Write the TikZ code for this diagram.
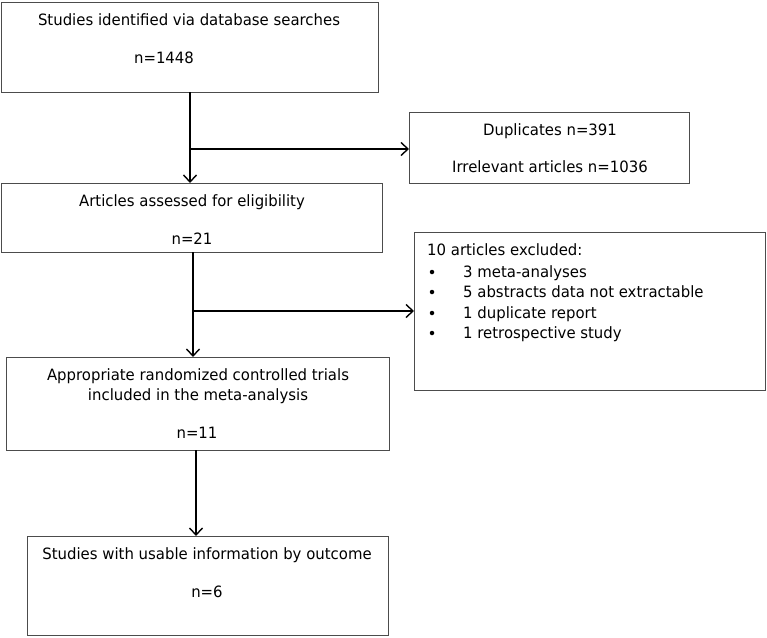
\documentclass[tikz,border=0pt]{standalone}
\usepackage{fontspec}
\setmainfont{DejaVu Sans}[FakeStretch=0.955]
\usetikzlibrary{arrows.meta}
\tikzset{
  box/.style={draw=black!70, line width=1pt, inner sep=0pt, outer sep=0pt, fill=none},
  txt/.style={inner sep=0pt, anchor=base, font=\fontsize{15.6}{18}\selectfont},
  ltxt/.style={txt, anchor=base west},
  dot/.style={circle, fill=black, inner sep=0pt, minimum size=4.5pt},
  arr/.style={line width=1.4pt, -{Straight Barb[length=7pt,width=13pt,line width=1.4pt]}},
  ln/.style={line width=1.4pt}
}
\begin{document}
\begin{tikzpicture}[x=1pt,y=-1pt]
\useasboundingbox[fill=white] (0,0) rectangle (767,637);
% boxes
\node[box, minimum width=377pt, minimum height=90pt] (b1) at (189.5,47) {};
\node[box, minimum width=280pt, minimum height=71pt] (b2) at (549,147.5) {};
\node[box, minimum width=381pt, minimum height=69pt] (b3) at (191.5,217.5) {};
\node[box, minimum width=351pt, minimum height=158pt] (b4) at (589.5,311) {};
\node[box, minimum width=383pt, minimum height=93pt] (b5) at (197.5,403.5) {};
\node[box, minimum width=361pt, minimum height=99pt] (b6) at (207.5,585.5) {};
% texts
\node[txt] (t1a) at (189,25) {Studies identified via database searches};
\node[txt] (t1b) at (164,63) {n=1448};
\node[txt] (t2a) at (550,135) {Duplicates n=391};
\node[txt] (t2b) at (550,172) {Irrelevant articles n=1036};
\node[txt] (t3a) at (192,206) {Articles assessed for eligibility};
\node[txt] (t3b) at (192,244) {n=21};
\node[ltxt] (t4a) at (427,255) {10 articles excluded:};
\node[dot] (d1) at (432,272) {};
\node[dot] (d2) at (432,292) {};
\node[dot] (d3) at (432,313) {};
\node[dot] (d4) at (432,333) {};
\node[ltxt] (t4b) at (463,277) {3 meta-analyses};
\node[ltxt] (t4c) at (463,297) {5 abstracts data not extractable};
\node[ltxt] (t4d) at (463,318) {1 duplicate report};
\node[ltxt] (t4e) at (463,338) {1 retrospective study};
\node[txt] (t5a) at (198,380) {Appropriate randomized controlled trials};
\node[txt] (t5b) at (198,400) {included in the meta-analysis};
\node[txt] (t5c) at (197,438) {n=11};
\node[txt] (t6a) at (207,559) {Studies with usable information by outcome};
\node[txt] (t6b) at (207,597) {n=6};
% connectors
\coordinate (s1) at (190,92);
\coordinate (j1) at (190,149);
\draw[arr] (s1) -- (s1 |- b3.north);
\draw[arr] (j1) -- (j1 -| b2.west);
\coordinate (s2) at (193,252);
\coordinate (j2) at (193,311);
\draw[arr] (s2) -- (s2 |- b5.north);
\draw[arr] (j2) -- (j2 -| b4.west);
\coordinate (s3) at (196,450);
\draw[arr] (s3) -- (s3 |- b6.north);
\end{tikzpicture}
\end{document}
